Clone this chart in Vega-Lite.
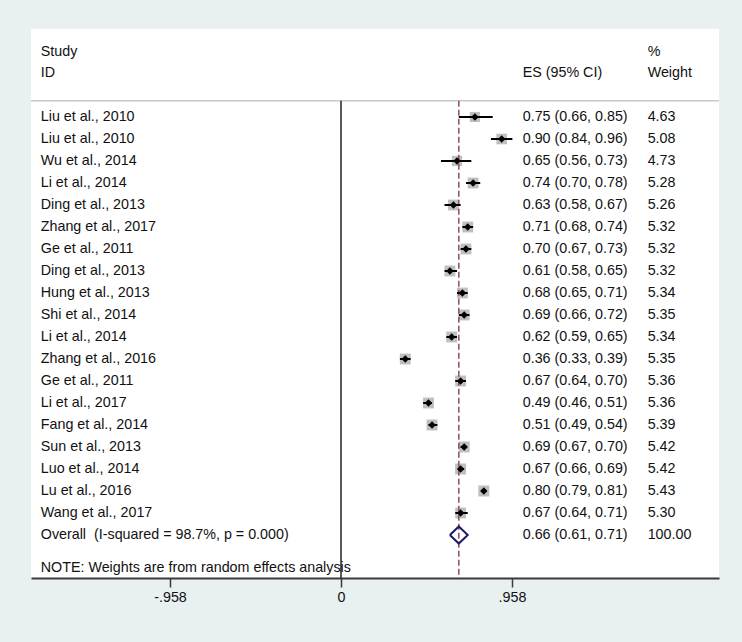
{
  "$schema": "https://vega.github.io/schema/vega-lite/v6.json",
  "autosize": "none",
  "width": 688,
  "height": 549,
  "padding": {"left": 31, "top": 29, "right": 23, "bottom": 64},
  "background": "#e9f0f2",
  "config": {
    "view": {"fill": "white", "stroke": null},
    "text": {"font": "Liberation Sans", "fontSize": 14.3, "color": "#111111", "baseline": "middle", "align": "left"}
  },
  "datasets": {
    "studies": [
      {"r": 1, "study": "Liu et al., 2010", "es": 0.75, "lo": 0.66, "hi": 0.85, "wt": 4.63, "ci": "0.75 (0.66, 0.85)", "wtxt": "4.63"},
      {"r": 2, "study": "Liu et al., 2010", "es": 0.90, "lo": 0.84, "hi": 0.96, "wt": 5.08, "ci": "0.90 (0.84, 0.96)", "wtxt": "5.08"},
      {"r": 3, "study": "Wu et al., 2014", "es": 0.65, "lo": 0.56, "hi": 0.73, "wt": 4.73, "ci": "0.65 (0.56, 0.73)", "wtxt": "4.73"},
      {"r": 4, "study": "Li et al., 2014", "es": 0.74, "lo": 0.70, "hi": 0.78, "wt": 5.28, "ci": "0.74 (0.70, 0.78)", "wtxt": "5.28"},
      {"r": 5, "study": "Ding et al., 2013", "es": 0.63, "lo": 0.58, "hi": 0.67, "wt": 5.26, "ci": "0.63 (0.58, 0.67)", "wtxt": "5.26"},
      {"r": 6, "study": "Zhang et al., 2017", "es": 0.71, "lo": 0.68, "hi": 0.74, "wt": 5.32, "ci": "0.71 (0.68, 0.74)", "wtxt": "5.32"},
      {"r": 7, "study": "Ge et al., 2011", "es": 0.70, "lo": 0.67, "hi": 0.73, "wt": 5.32, "ci": "0.70 (0.67, 0.73)", "wtxt": "5.32"},
      {"r": 8, "study": "Ding et al., 2013", "es": 0.61, "lo": 0.58, "hi": 0.65, "wt": 5.32, "ci": "0.61 (0.58, 0.65)", "wtxt": "5.32"},
      {"r": 9, "study": "Hung et al., 2013", "es": 0.68, "lo": 0.65, "hi": 0.71, "wt": 5.34, "ci": "0.68 (0.65, 0.71)", "wtxt": "5.34"},
      {"r": 10, "study": "Shi et al., 2014", "es": 0.69, "lo": 0.66, "hi": 0.72, "wt": 5.35, "ci": "0.69 (0.66, 0.72)", "wtxt": "5.35"},
      {"r": 11, "study": "Li et al., 2014", "es": 0.62, "lo": 0.59, "hi": 0.65, "wt": 5.34, "ci": "0.62 (0.59, 0.65)", "wtxt": "5.34"},
      {"r": 12, "study": "Zhang et al., 2016", "es": 0.36, "lo": 0.33, "hi": 0.39, "wt": 5.35, "ci": "0.36 (0.33, 0.39)", "wtxt": "5.35"},
      {"r": 13, "study": "Ge et al., 2011", "es": 0.67, "lo": 0.64, "hi": 0.70, "wt": 5.36, "ci": "0.67 (0.64, 0.70)", "wtxt": "5.36"},
      {"r": 14, "study": "Li et al., 2017", "es": 0.49, "lo": 0.46, "hi": 0.51, "wt": 5.36, "ci": "0.49 (0.46, 0.51)", "wtxt": "5.36"},
      {"r": 15, "study": "Fang et al., 2014", "es": 0.51, "lo": 0.49, "hi": 0.54, "wt": 5.39, "ci": "0.51 (0.49, 0.54)", "wtxt": "5.39"},
      {"r": 16, "study": "Sun et al., 2013", "es": 0.69, "lo": 0.67, "hi": 0.70, "wt": 5.42, "ci": "0.69 (0.67, 0.70)", "wtxt": "5.42"},
      {"r": 17, "study": "Luo et al., 2014", "es": 0.67, "lo": 0.66, "hi": 0.69, "wt": 5.42, "ci": "0.67 (0.66, 0.69)", "wtxt": "5.42"},
      {"r": 18, "study": "Lu et al., 2016", "es": 0.80, "lo": 0.79, "hi": 0.81, "wt": 5.43, "ci": "0.80 (0.79, 0.81)", "wtxt": "5.43"},
      {"r": 19, "study": "Wang et al., 2017", "es": 0.67, "lo": 0.64, "hi": 0.71, "wt": 5.30, "ci": "0.67 (0.64, 0.71)", "wtxt": "5.30"}
    ],
    "overall": [
      {"r": 20, "study": "Overall\u00a0 (I-squared = 98.7%, p = 0.000)", "es": 0.66, "lo": 0.61, "hi": 0.71, "ci": "0.66 (0.61, 0.71)", "wtxt": "100.00"}
    ],
    "diamond": [
      {"o": 1, "dx": 0.61, "dy": 20},
      {"o": 2, "dx": 0.66, "dy": 19.61},
      {"o": 3, "dx": 0.71, "dy": 20},
      {"o": 4, "dx": 0.66, "dy": 20.39},
      {"o": 5, "dx": 0.61, "dy": 20}
    ],
    "vlines": [
      {"kind": "null", "v": 0, "top": 0.26, "bottom": 21.955},
      {"kind": "pooled", "v": 0.66, "top": 0.26, "bottom": 21.955}
    ],
    "hlines": [
      {"y": 0.26, "left": -1.7367, "right": 2.1176}
    ],
    "headers": [
      {"line": 1, "a": "Study", "b": "", "c": "%"},
      {"line": 2, "a": "ID", "b": "ES (95% CI)", "c": "Weight"}
    ],
    "notes": [
      {"line": 21.5, "txt": "NOTE: Weights are from random effects analysis"}
    ]
  },
  "layer": [
    {
      "data": {"name": "studies"},
      "mark": {"type": "point", "shape": "square", "filled": true, "color": "#bfbfbf", "opacity": 1},
      "encoding": {
        "x": {"field": "es", "type": "quantitative",
          "scale": {"domain": [-1.7367, 2.1176], "nice": false, "zero": false},
          "axis": {"values": [-0.958, 0, 0.958], "title": null, "grid": false,
            "labelExpr": "datum.value == 0 ? '0' : (datum.value < 0 ? '-.958' : '.958')",
            "domainColor": "#3a3a3a", "domainWidth": 2, "tickColor": "#3a3a3a", "tickWidth": 1.5, "tickSize": 9,
            "labelFont": "Liberation Sans", "labelFontSize": 14.3, "labelColor": "#111111", "labelPadding": 3}},
        "y": {"field": "r", "type": "quantitative",
          "scale": {"domain": [-3, 21.955], "nice": false, "zero": false, "reverse": true},
          "axis": null},
        "size": {"field": "wt", "type": "quantitative", "scale": {"domain": [0, 5.43], "range": [0, 120]}, "legend": null}
      }
    },
    {
      "data": {"name": "hlines"},
      "mark": {"type": "rule", "color": "#c8c8c8", "strokeWidth": 1.5},
      "encoding": {
        "x": {"field": "left", "type": "quantitative"},
        "x2": {"field": "right"},
        "y": {"field": "y", "type": "quantitative"}
      }
    },
    {
      "data": {"name": "vlines"},
      "transform": [{"filter": "datum.kind == 'null'"}],
      "mark": {"type": "rule", "color": "#222222", "strokeWidth": 1.5},
      "encoding": {
        "x": {"field": "v", "type": "quantitative"},
        "y": {"field": "top", "type": "quantitative"},
        "y2": {"field": "bottom"}
      }
    },
    {
      "data": {"name": "vlines"},
      "transform": [{"filter": "datum.kind == 'pooled'"}],
      "mark": {"type": "rule", "color": "#8c4f5e", "strokeWidth": 1.5, "strokeDash": [6, 3]},
      "encoding": {
        "x": {"field": "v", "type": "quantitative"},
        "y": {"field": "top", "type": "quantitative"},
        "y2": {"field": "bottom"}
      }
    },
    {
      "data": {"name": "studies"},
      "mark": {"type": "rule", "color": "#000000", "strokeWidth": 2},
      "encoding": {
        "x": {"field": "lo", "type": "quantitative"},
        "x2": {"field": "hi"},
        "y": {"field": "r", "type": "quantitative"}
      }
    },
    {
      "data": {"name": "studies"},
      "mark": {"type": "point", "shape": "diamond", "filled": true, "color": "#000000", "opacity": 1, "size": 55},
      "encoding": {
        "x": {"field": "es", "type": "quantitative"},
        "y": {"field": "r", "type": "quantitative"}
      }
    },
    {
      "data": {"name": "diamond"},
      "mark": {"type": "line", "color": "#1c1c66", "strokeWidth": 2},
      "encoding": {
        "x": {"field": "dx", "type": "quantitative"},
        "y": {"field": "dy", "type": "quantitative"},
        "order": {"field": "o", "type": "quantitative"}
      }
    },
    {
      "data": {"name": "studies"},
      "mark": {"type": "text"},
      "encoding": {"x": {"datum": -1.682}, "y": {"field": "r", "type": "quantitative"}, "text": {"field": "study"}}
    },
    {
      "data": {"name": "studies"},
      "mark": {"type": "text"},
      "encoding": {"x": {"datum": 1.018}, "y": {"field": "r", "type": "quantitative"}, "text": {"field": "ci"}}
    },
    {
      "data": {"name": "studies"},
      "mark": {"type": "text"},
      "encoding": {"x": {"datum": 1.718}, "y": {"field": "r", "type": "quantitative"}, "text": {"field": "wtxt"}}
    },
    {
      "data": {"name": "overall"},
      "mark": {"type": "text"},
      "encoding": {"x": {"datum": -1.682}, "y": {"field": "r", "type": "quantitative"}, "text": {"field": "study"}}
    },
    {
      "data": {"name": "overall"},
      "mark": {"type": "text"},
      "encoding": {"x": {"datum": 1.018}, "y": {"field": "r", "type": "quantitative"}, "text": {"field": "ci"}}
    },
    {
      "data": {"name": "overall"},
      "mark": {"type": "text"},
      "encoding": {"x": {"datum": 1.718}, "y": {"field": "r", "type": "quantitative"}, "text": {"field": "wtxt"}}
    },
    {
      "data": {"name": "headers"},
      "transform": [{"filter": "datum.line == 1"}],
      "mark": {"type": "text"},
      "encoding": {"x": {"datum": -1.682}, "y": {"datum": -1.95}, "text": {"field": "a"}}
    },
    {
      "data": {"name": "headers"},
      "transform": [{"filter": "datum.line == 1"}],
      "mark": {"type": "text"},
      "encoding": {"x": {"datum": 1.718}, "y": {"datum": -1.95}, "text": {"field": "c"}}
    },
    {
      "data": {"name": "headers"},
      "transform": [{"filter": "datum.line == 2"}],
      "mark": {"type": "text"},
      "encoding": {"x": {"datum": -1.682}, "y": {"datum": -0.98}, "text": {"field": "a"}}
    },
    {
      "data": {"name": "headers"},
      "transform": [{"filter": "datum.line == 2"}],
      "mark": {"type": "text"},
      "encoding": {"x": {"datum": 1.018}, "y": {"datum": -0.98}, "text": {"field": "b"}}
    },
    {
      "data": {"name": "headers"},
      "transform": [{"filter": "datum.line == 2"}],
      "mark": {"type": "text"},
      "encoding": {"x": {"datum": 1.718}, "y": {"datum": -0.98}, "text": {"field": "c"}}
    },
    {
      "data": {"name": "notes"},
      "mark": {"type": "text"},
      "encoding": {"x": {"datum": -1.682}, "y": {"field": "line", "type": "quantitative"}, "text": {"field": "txt"}}
    }
  ]
}
